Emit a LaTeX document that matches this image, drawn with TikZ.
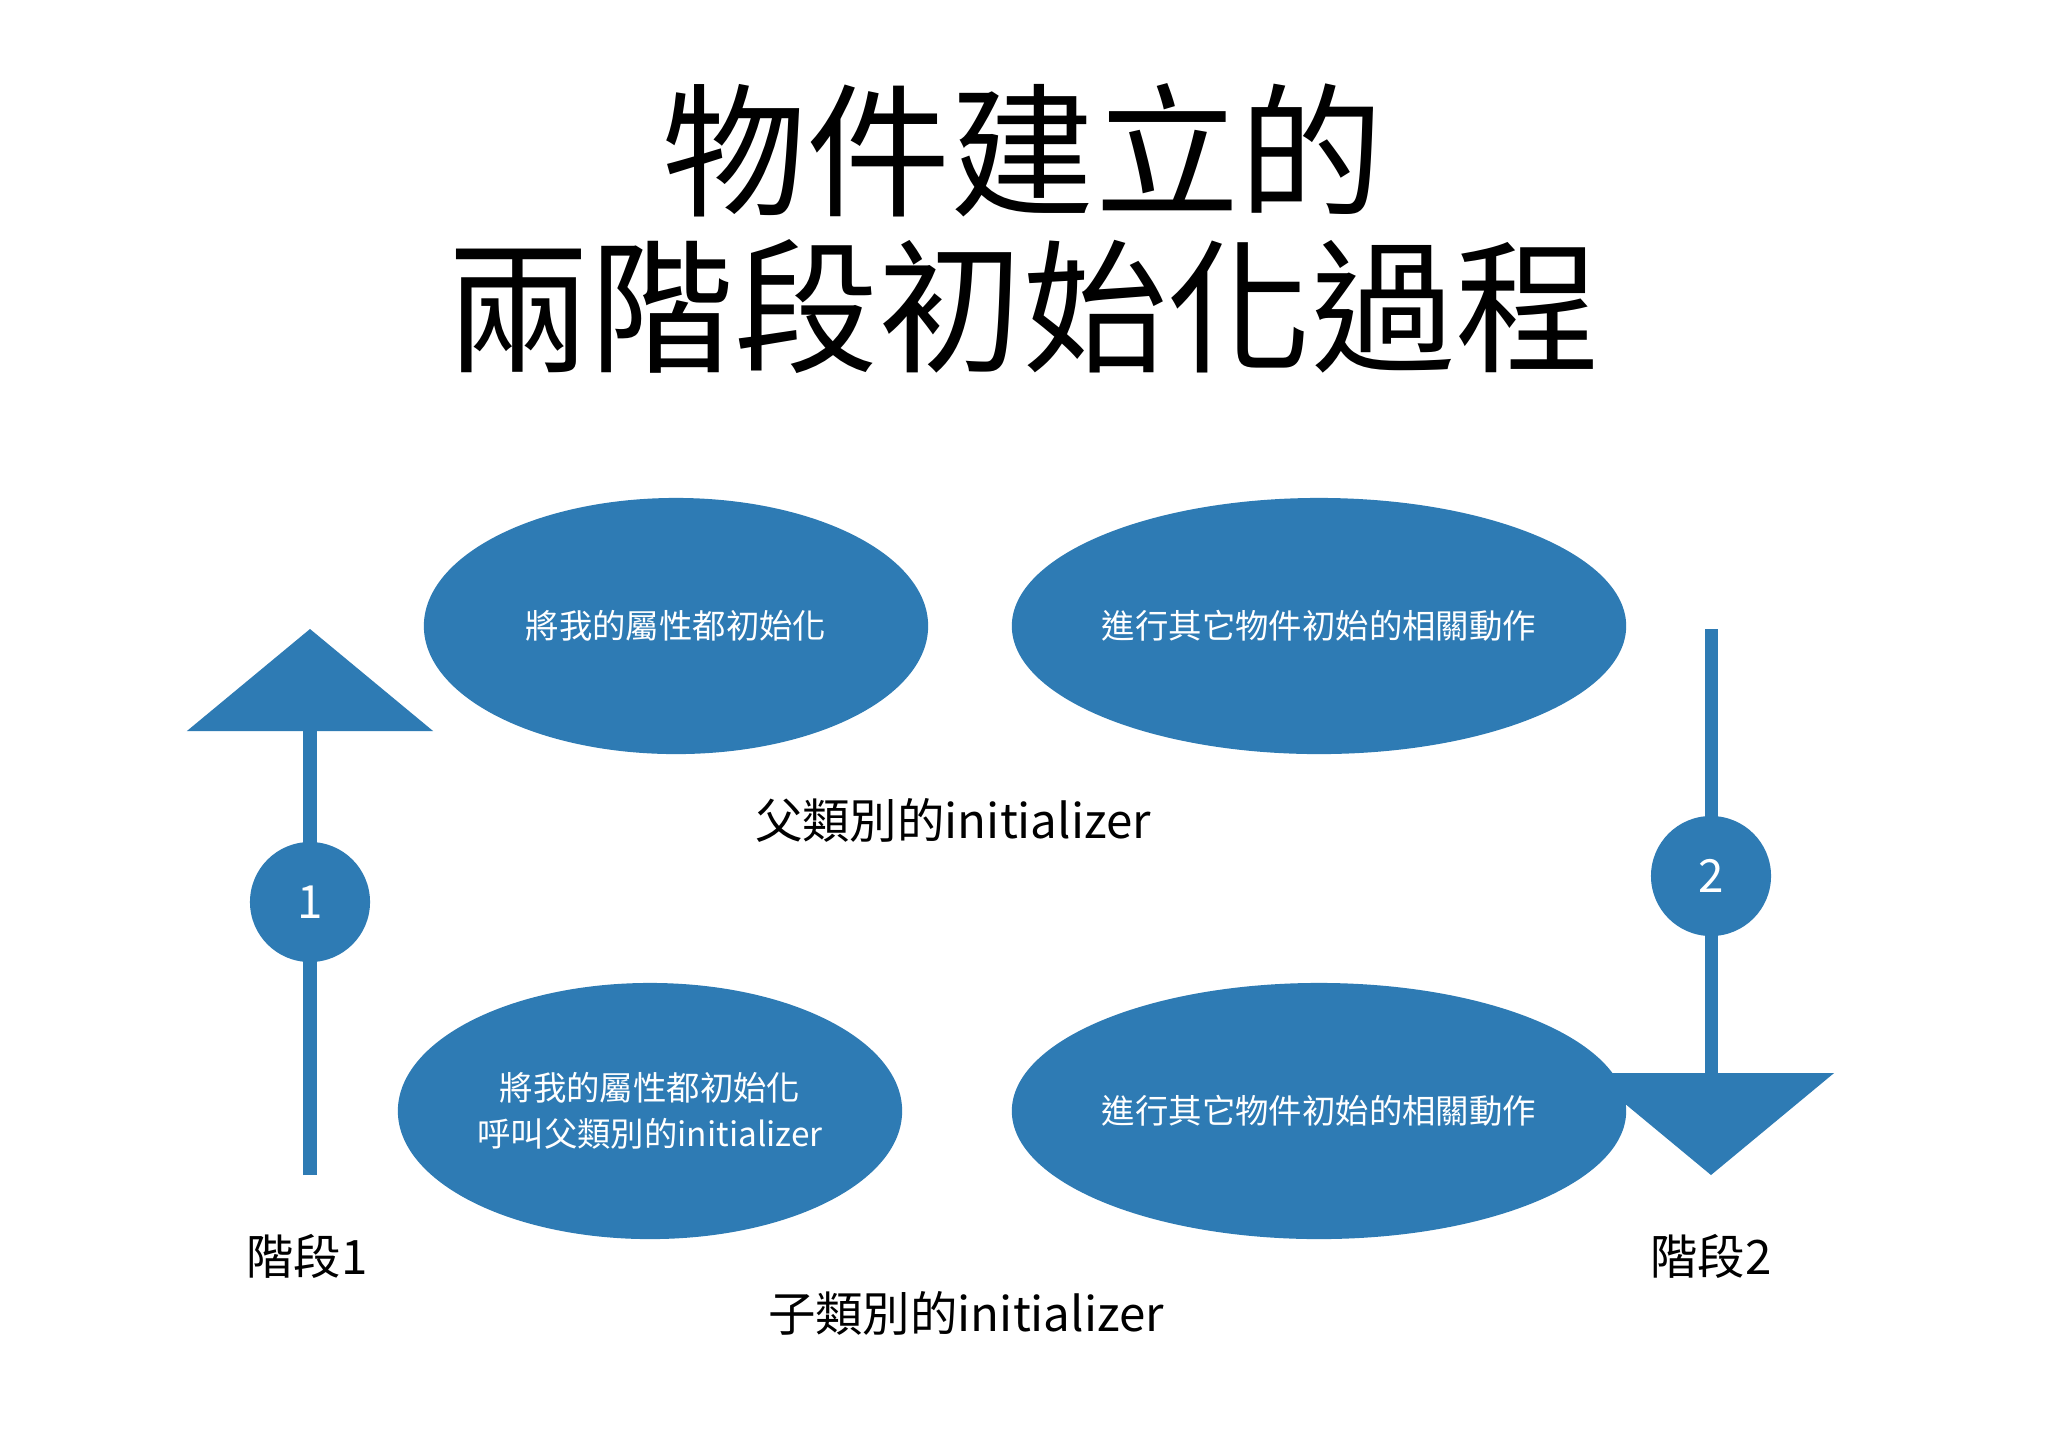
\documentclass[tikz,border=0pt]{standalone}
\usepackage{fontspec}
\setmainfont{Noto Sans CJK TC}
\usetikzlibrary{shapes.geometric}
\definecolor{blu}{HTML}{2E7BB4}
\tikzset{
  ell/.style={ellipse,fill=blu,text=white,font=\fontsize{9.5}{13}\selectfont,align=center,inner sep=0pt},
  lbl/.style={font=\fontsize{13.5}{16}\selectfont},
  num/.style={circle,fill=blu,text=white,minimum size=1.2cm,inner sep=0pt,font=\fontsize{13}{15}\selectfont},
  shaft/.style={draw=blu,line width=0.13cm}
}
\begin{document}
\begin{tikzpicture}[x=0.01cm,y=-0.01cm]
\useasboundingbox[fill=white] (0,0) rectangle (2048,1447);
\node[font=\fontsize{41}{50}\selectfont] (t1) at (1023,150) {物件建立的};
\node[font=\fontsize{41}{50}\selectfont] (t2) at (1023,307) {兩階段初始化過程};
\node[ell,minimum width=5.04cm,minimum height=2.56cm] (e1) at (676,626) {將我的屬性都初始化};
\node[ell,minimum width=6.14cm,minimum height=2.56cm] (e2) at (1319,626) {進行其它物件初始的相關動作};
\node[ell,minimum width=5.04cm,minimum height=2.56cm] (e3) at (650,1111) {將我的屬性都初始化\\呼叫父類別的initializer};
\node[ell,minimum width=6.14cm,minimum height=2.56cm] (e4) at (1319,1111) {進行其它物件初始的相關動作};
\node[lbl] (p) at (953,820) {父類別的initializer};
\node[lbl] (c) at (966,1313) {子類別的initializer};
\node[lbl] (s1) at (307,1256) {階段1};
\node[lbl] (s2) at (1711,1256) {階段2};
% arrow 1 (up)
\coordinate (a1b) at (310,1175);
\coordinate (a1h) at (310,731);
\coordinate (a1t) at (310,629);
\draw[shaft] (a1b) -- (a1h);
\fill[blu] (a1t) -- ([xshift=35]a1h) -- ([xshift=-35]a1h) -- cycle;
\node[num] (n1) at (310,902) {1};
% arrow 2 (down)
\coordinate (a2b) at (1711,629);
\coordinate (a2h) at (1711,1073);
\coordinate (a2t) at (1711,1175);
\draw[shaft] (a2b) -- (a2h);
\fill[blu] (a2t) -- ([xshift=35]a2h) -- ([xshift=-35]a2h) -- cycle;
\node[num] (n2) at (1711,876) {2};
\end{tikzpicture}
\end{document}
